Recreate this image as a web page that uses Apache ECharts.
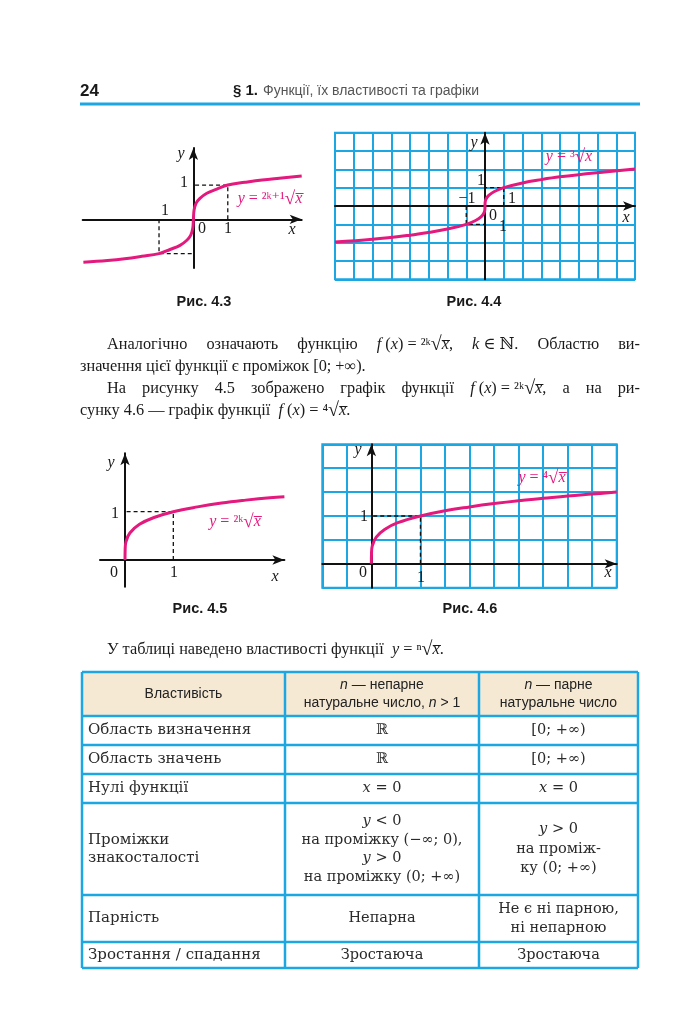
<!DOCTYPE html>
<html><head><meta charset="utf-8">
<script src="https://cdn.jsdelivr.net/npm/echarts@6/dist/echarts.min.js"></script>
<style>html,body{margin:0;padding:0;background:#fff}#c{width:690px;height:1029px}</style>
</head><body><div id="c"></div>
<script>
// ---- Data ----
// Fig 4.3  y = (2k+1)-th root of x
const fig43X = [-3.2, -2.5, -2, -1.5, -1, -0.68, -0.39, -0.19, -0.08, -0.02, 0, 0.02, 0.08, 0.19, 0.39, 0.68, 1, 1.5, 2, 2.5, 3.15];
const fig43Y = [-1.25, -1.2, -1.15, -1.08, -1, -0.88, -0.76, -0.61, -0.47, -0.27, 0, 0.27, 0.47, 0.61, 0.76, 0.88, 1, 1.08, 1.15, 1.2, 1.26];
// Fig 4.4  y = cube root of x
const fig44X = [-8, -6, -4, -3, -2, -1, -0.5, -0.2, -0.05, -0.008, 0, 0.008, 0.05, 0.2, 0.5, 1, 2, 3, 4, 6, 8];
const fig44Y = [-1.97, -1.82, -1.59, -1.44, -1.26, -1, -0.79, -0.58, -0.37, -0.2, 0, 0.2, 0.37, 0.58, 0.79, 1, 1.26, 1.44, 1.59, 1.82, 2.02];
// Fig 4.5  y = (2k)-th root of x
const fig45X = [0, 0.003, 0.02, 0.1, 0.3, 0.6, 1, 1.5, 2, 2.5, 3, 3.3];
const fig45Y = [0, 0.22, 0.38, 0.56, 0.74, 0.88, 1, 1.1, 1.18, 1.24, 1.29, 1.31];
// Fig 4.6  y = fourth root of x
const fig46X = [0, 0.003, 0.02, 0.1, 0.27, 0.54, 1, 1.5, 2, 2.5, 3, 3.5, 4, 4.5, 5];
const fig46Y = [0, 0.22, 0.38, 0.56, 0.72, 0.86, 1, 1.11, 1.19, 1.26, 1.32, 1.37, 1.42, 1.46, 1.5];
// dashed guide points
const guidePos = [[1, 0], [1, 1], [0, 1]];
const guideNeg = [[-1, 0], [-1, -1], [0, -1]];
// captions
const captions = ['Рис. 4.3', 'Рис. 4.4', 'Рис. 4.5', 'Рис. 4.6'];
const fnLabels = ['{i|y} = ²ᵏ⁺¹{r|√}{i|x̅}', '{i|y} = ³{r|√}{i|x̅}', '{i|y} = ²ᵏ{r|√}{i|x̅}', '{i|y} = ⁴{r|√}{i|x̅}'];
// text
const headerNum = '24';
const headerSec = '§ 1.';
const headerTitle = 'Функції, їх властивості та графіки';
const paragraph = [
  'Аналогічно означають функцію {i|f}\u00a0({i|x})\u00a0=\u00a0²ᵏ{r|√}{i|x̅}, {i|k}\u00a0∈\u00a0ℕ. Областю ви-',
  'значення цієї функції є проміжок [0; +∞).',
  'На рисунку 4.5 зображено графік функції {i|f}\u00a0({i|x})\u00a0=\u00a0²ᵏ{r|√}{i|x̅}, а на ри-',
  'сунку 4.6 — графік функції  {i|f} ({i|x}) = ⁴{r|√}{i|x̅}.',
  'У таблиці наведено властивості функції  {i|y} = ⁿ{r|√}{i|x̅}.'
];
const paraJustify = [true, false, true, false, false];
// table
const tableHeader = ['Властивість', '{i|n} — непарне\nнатуральне число, {i|n} > 1', '{i|n} — парне\nнатуральне число'];
const tableRows = [
  ['Область визначення', 'ℝ', '[0; +∞)'],
  ['Область значень', 'ℝ', '[0; +∞)'],
  ['Нулі функції', '{i|x} = 0', '{i|x} = 0'],
  ['Проміжки\nзнакосталості', '{i|y} < 0\nна проміжку (−∞; 0),\n{i|y} > 0\nна проміжку (0; +∞)', '{i|y} > 0\nна промiж-\nку (0; +∞)'],
  ['Парність', 'Непарна', 'Не є ні парною,\nні непарною'],
  ['Зростання / спадання', 'Зростаюча', 'Зростаюча']
];

// ---- styling / layout ----
const PINK = '#E3197D', BLUE = '#1CA6E2', BEIGE = '#F6E9D4', INK = '#1a1a1a';
const SERIF = '"Liberation Serif", "DejaVu Serif", serif';
const SANS = '"Liberation Sans", Arial, sans-serif';
const TSERIF = '"DejaVu Serif", "Liberation Serif", serif';
const RAD_SCALE = 1.2;

function txt(x, y, text, o) {
  o = o || {};
  const fam = o.family || SERIF, size = o.size || 15, col = o.color || INK, lh = o.lh || size * 1.25;
  return {
    type: 'text', x: x, y: y, z: 100,
    style: {
      text: text, fill: col,
      fontFamily: fam, fontSize: size,
      fontStyle: o.italic ? 'italic' : 'normal',
      fontWeight: o.bold ? 'bold' : 'normal',
      align: o.align || 'center', verticalAlign: o.valign || 'middle',
      lineHeight: lh,
      rich: {
        i: { fontFamily: fam, fontSize: size, fontStyle: 'italic', fill: col, lineHeight: lh },
        r: { fontFamily: SERIF, fontSize: Math.round(size * RAD_SCALE), fill: col, lineHeight: lh }
      }
    }
  };
}

const zip = (a, b) => a.map((v, i) => [v, b[i]]);

const grids = [
  { left: 82.7, top: 148, width: 219, height: 120 },
  { left: 335, top: 132.7, width: 300, height: 146.6, show: true, borderColor: BLUE, borderWidth: 2, backgroundColor: '#fff' },
  { left: 100, top: 453.3, width: 184.4, height: 133.4 },
  { left: 322.3, top: 444.3, width: 294.4, height: 143.4, show: true, borderColor: BLUE, borderWidth: 2, backgroundColor: '#fff' }
];
const ranges = [
  { x: [-3.22, 3.15], y: [-1.42, 2.08] },
  { x: [-8, 8, 1], y: [-4, 4, 1] },
  { x: [-0.518, 3.3], y: [-0.553, 2.21] },
  { x: [-1, 5, 0.5], y: [-0.5, 2.5, 0.5] }
];
function axis(r, gi) {
  const grid = gi === 1 || gi === 3;
  const a = {
    type: 'value', gridIndex: gi, min: r[0], max: r[1],
    axisLine: { show: true, onZero: true, symbol: ['none', 'arrow'], symbolSize: [7, 12], lineStyle: { color: '#111', width: 2 } },
    axisTick: { show: false }, axisLabel: { show: false },
    splitLine: { show: grid, lineStyle: { color: BLUE, width: 2 } }
  };
  if (r[2]) a.interval = r[2];
  return a;
}
const xAxes = ranges.map(r => r.x).map((r, i) => axis(r, i));
const yAxes = ranges.map(r => r.y).map((r, i) => axis(r, i));

const curves = [zip(fig43X, fig43Y), zip(fig44X, fig44Y), zip(fig45X, fig45Y), zip(fig46X, fig46Y)];
const series = [];
curves.forEach((d, i) => {
  const guides = (i < 2) ? [guidePos, guideNeg] : [guidePos];
  guides.forEach(g => series.push({
    type: 'line', xAxisIndex: i, yAxisIndex: i, data: g, symbol: 'none', z: 3,
    lineStyle: { color: '#111', width: 1.3, type: [4, 3] }, silent: true
  }));
  series.push({
    type: 'line', xAxisIndex: i, yAxisIndex: i, data: d, symbol: 'none', z: 5,
    smooth: 0.4, clip: true,
    lineStyle: { color: PINK, width: 3 }, silent: true
  });
});

// ---- graphic layer: text and table ----
const G = [];
// header
G.push(txt(80, 91, headerNum, { family: SANS, size: 17, bold: true, align: 'left' }));
G.push(txt(233, 91, headerSec, { family: SANS, size: 15, bold: true, align: 'left' }));
G.push(txt(263, 91, headerTitle, { family: SANS, size: 14, align: 'left', color: '#555' }));
G.push({ type: 'line', z: 100, shape: { x1: 80, y1: 104, x2: 640, y2: 104 }, style: { stroke: BLUE, lineWidth: 3 } });

// axis letters and tick numbers
const axLabels = [
  [181, 154, 'y', 1], [292, 230, 'x', 1], [184, 183, '1', 0], [228, 229, '1', 0], [202, 229, '0', 0], [165, 211, '1', 0],
  [474, 143, 'y', 1], [626, 218, 'x', 1], [481, 181, '1', 0], [467, 199, '−1', 0], [512, 199, '1', 0], [493, 216, '0', 0], [503, 227, '1', 0],
  [111, 463, 'y', 1], [115, 514, '1', 0], [114, 573, '0', 0], [174, 573, '1', 0], [275, 577, 'x', 1],
  [358, 450, 'y', 1], [364, 517, '1', 0], [363, 573, '0', 0], [421, 578, '1', 0], [608, 573, 'x', 1]
];
axLabels.forEach(a => G.push(txt(a[0], a[1], a[2], { size: 16, italic: !!a[3] })));
const fnPos = [[270, 199], [569, 157], [235, 522], [542, 478]];
fnLabels.forEach((t, i) => G.push(txt(fnPos[i][0], fnPos[i][1], t, { size: 16, color: PINK })));
const capPos = [[204, 302], [474, 302], [200, 609], [470, 609]];
captions.forEach((t, i) => G.push(txt(capPos[i][0], capPos[i][1], t, { family: SANS, size: 14.5, bold: true })));

// paragraph (justified lines placed word by word; formulas kept together by no-break spaces)
const measureCtx = document.createElement('canvas').getContext('2d');
function measureWord(w, size) {
  let width = 0;
  w.split(/(\{[ir]\|[^}]*\})/).forEach(part => {
    if (!part) return;
    const m = part.match(/^\{([ir])\|([^}]*)\}$/);
    let font = size + 'px "Liberation Serif"';
    if (m && m[1] === 'i') font = 'italic ' + font;
    if (m && m[1] === 'r') font = Math.round(size * RAD_SCALE) + 'px "Liberation Serif"';
    measureCtx.font = font;
    width += measureCtx.measureText(m ? m[2] : part).width;
  });
  return width;
}
const paraPos = [[107, 345], [80, 367], [107, 389], [80, 411], [107, 650]];
const PARA_RIGHT = 640, PSIZE = 16.3;
paragraph.forEach((t, i) => {
  if (!paraJustify[i]) { G.push(txt(paraPos[i][0], paraPos[i][1], t, { size: PSIZE, align: 'left' })); return; }
  const words = t.split(/ +/).filter(Boolean);
  const widths = words.map(w => measureWord(w, PSIZE));
  const total = widths.reduce((a, b) => a + b, 0);
  const gap = (PARA_RIGHT - paraPos[i][0] - total) / (words.length - 1);
  let x = paraPos[i][0];
  words.forEach((w, k) => { G.push(txt(x, paraPos[i][1], w, { size: PSIZE, align: 'left' })); x += widths[k] + gap; });
});

// table
const colX = [82, 285, 479, 638];
const rowY = [672, 716, 745, 774, 803, 895, 942, 968];
G.push({ type: 'rect', z: 90, shape: { x: colX[0], y: rowY[0], width: colX[3] - colX[0], height: rowY[1] - rowY[0] }, style: { fill: BEIGE } });
rowY.forEach(y => G.push({ type: 'line', z: 95, shape: { x1: colX[0], y1: y, x2: colX[3], y2: y }, style: { stroke: BLUE, lineWidth: 2.5 } }));
colX.forEach(x => G.push({ type: 'line', z: 95, shape: { x1: x, y1: rowY[0], x2: x, y2: rowY[rowY.length - 1] }, style: { stroke: BLUE, lineWidth: 2.5 } }));
tableHeader.forEach((t, c) => G.push(txt((colX[c] + colX[c + 1]) / 2, (rowY[0] + rowY[1]) / 2, t, { family: SANS, size: 14, lh: 18, color: '#222' })));
tableRows.forEach((row, r) => {
  const cy = (rowY[r + 1] + rowY[r + 2]) / 2;
  row.forEach((t, c) => {
    if (c === 0) G.push(txt(colX[0] + 6, cy, t, { family: TSERIF, size: 15, lh: 18, align: 'left', color: '#2a2a2a' }));
    else G.push(txt((colX[c] + colX[c + 1]) / 2, cy, t, { family: TSERIF, size: 14.5, lh: (r === 3 && c === 2) ? 19.5 : 18.5, color: '#2a2a2a' }));
  });
});

const chart = echarts.init(document.getElementById('c'), null, { renderer: 'canvas' });
chart.setOption({
  backgroundColor: '#fff',
  animation: false,
  grid: grids,
  xAxis: xAxes,
  yAxis: yAxes,
  series: series,
  graphic: { elements: G }
});
</script>
</body></html>
